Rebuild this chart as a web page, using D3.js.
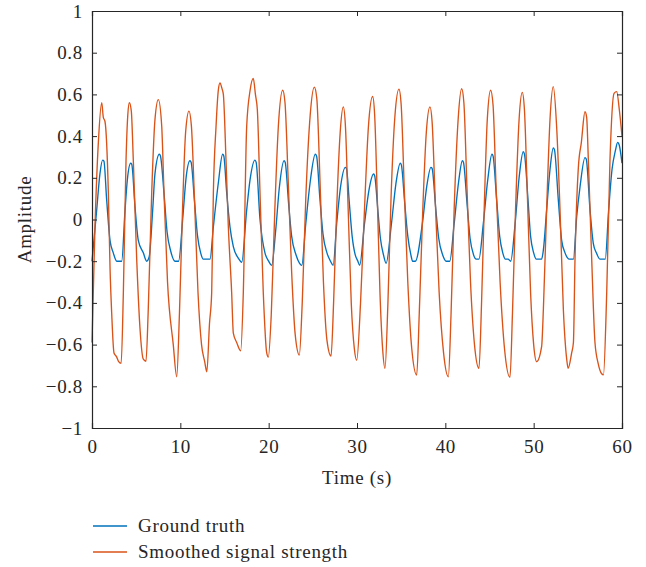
<!DOCTYPE html>
<html lang="en">
<head>
<meta charset="utf-8">
<title>Amplitude vs time</title>
<script src="https://cdn.jsdelivr.net/npm/d3@7"></script>
<style>
  body{margin:0;background:#fff;}
  svg text{font-family:"Liberation Serif","DejaVu Serif",serif;fill:#262626;letter-spacing:0.7px;}
</style>
</head>
<body>
<div id="chart"></div>
<script>
// Ground truth as [time (s), amplitude]
var groundTruth = [
  [0,-0.2],[0.53,0.045],[0.9,0.22],[1.2,0.285],[1.35,0.28],[1.66,0.094],[2.04,-0.1],[2.41,-0.16],[2.8,-0.2],[3.36,-0.2],
  [3.74,0.045],[4.0,0.19],[4.38,0.27],[4.5,0.265],[4.87,0.06],[5.24,-0.1],[5.81,-0.16],[6.19,-0.2],[6.47,-0.18],
  [6.87,0.045],[7.13,0.22],[7.62,0.313],[7.75,0.305],[8.15,0.127],[8.5,-0.06],[8.9,-0.15],[9.4,-0.2],[9.8,-0.2],
  [10.3,0.02],[10.65,0.2],[11.09,0.282],[11.22,0.275],[11.6,0.09],[11.95,-0.08],[12.3,-0.16],[12.6,-0.19],[13.36,-0.19],
  [13.74,-0.035],[14.3,0.175],[14.79,0.313],[14.92,0.305],[15.25,0.127],[15.62,-0.035],[16.0,-0.13],[16.57,-0.186],[16.95,-0.205],
  [17.51,0.045],[17.89,0.19],[18.45,0.285],[18.58,0.275],[19.02,0.0],[19.58,-0.16],[20.0,-0.2],[20.34,-0.22],
  [20.8,-0.05],[21.2,0.15],[21.74,0.282],[21.87,0.275],[22.25,0.08],[22.6,-0.08],[23.1,-0.17],[23.5,-0.21],[23.75,-0.22],
  [24.2,-0.02],[24.7,0.18],[25.28,0.313],[25.42,0.305],[25.8,0.1],[26.15,-0.07],[26.6,-0.16],[27.0,-0.2],[27.3,-0.22],
  [27.7,-0.02],[28.15,0.16],[28.68,0.25],[28.8,0.245],[29.15,0.07],[29.45,-0.08],[29.8,-0.17],[30.1,-0.2],[30.3,-0.22],
  [30.85,-0.02],[31.35,0.14],[31.88,0.218],[32.0,0.21],[32.35,0.05],[32.65,-0.09],[33.0,-0.17],[33.3,-0.21],
  [33.9,-0.02],[34.4,0.17],[34.9,0.27],[35.02,0.262],[35.4,0.08],[35.75,-0.08],[36.1,-0.17],[36.3,-0.2],[36.6,-0.2],
  [37.4,-0.02],[37.9,0.16],[38.37,0.25],[38.5,0.245],[38.9,0.06],[39.25,-0.09],[39.7,-0.17],[40.1,-0.2],[40.5,-0.2],
  [41.0,-0.02],[41.5,0.18],[41.93,0.282],[42.05,0.275],[42.45,0.08],[42.8,-0.09],[43.2,-0.17],[43.5,-0.19],[43.8,-0.19],
  [44.3,-0.02],[44.8,0.19],[45.28,0.313],[45.4,0.305],[45.8,0.1],[46.15,-0.08],[46.5,-0.16],[46.8,-0.19],[47.1,-0.19],[47.4,-0.2],
  [47.9,-0.02],[48.35,0.2],[48.82,0.325],[48.95,0.315],[49.35,0.1],[49.65,-0.08],[50.0,-0.16],[50.3,-0.19],[50.9,-0.19],
  [51.1,-0.146],[51.47,0.046],[51.85,0.24],[52.22,0.343],[52.35,0.335],[52.79,0.094],[53.17,-0.1],[53.55,-0.16],[54.04,-0.19],[54.5,-0.19],
  [54.87,0.013],[55.25,0.157],[55.81,0.297],[55.95,0.29],[56.38,0.046],[56.75,-0.114],[57.1,-0.16],[57.5,-0.19],[58.1,-0.19],
  [58.49,0.046],[58.87,0.24],[59.25,0.33],[59.51,0.37],[59.7,0.355],[60,0.27]
]

// Smoothed signal strength as [time (s), amplitude]
var smoothed = [
  [0,-0.59],[0.34,-0.03],[0.72,0.37],[1.10,0.56],[1.28,0.49],[1.47,0.47],[1.85,0.13],[2.04,-0.23],[2.23,-0.45],[2.49,-0.64],[2.8,-0.66],[3.0,-0.68],[3.3,-0.69],
  [3.55,-0.35],[3.85,0.28],[4.05,0.50],[4.23,0.56],[4.45,0.52],[4.68,0.28],[5.06,-0.19],[5.43,-0.52],[5.81,-0.67],[6.11,-0.68],
  [6.37,-0.43],[6.76,0.13],[7.13,0.48],[7.51,0.575],[7.89,0.45],[8.15,0.13],[8.55,-0.3],[9.2,-0.6],[9.59,-0.754],
  [9.9,-0.45],[10.25,0.05],[10.6,0.42],[10.98,0.52],[11.25,0.45],[11.6,0.1],[12.0,-0.35],[12.4,-0.6],[12.75,-0.68],[13.0,-0.73],
  [13.3,-0.5],[13.55,-0.35],[13.74,0.13],[14.04,0.445],[14.3,0.62],[14.49,0.655],[14.7,0.63],[14.87,0.6],[15.17,0.285],[15.43,-0.03],[15.81,-0.35],[16.0,-0.545],[16.38,-0.59],[16.83,-0.63],
  [17.13,-0.35],[17.51,0.445],[17.9,0.62],[18.26,0.677],[18.5,0.6],[18.72,0.525],[19.02,0.127],[19.39,-0.35],[19.78,-0.64],[19.96,-0.66],
  [20.3,-0.45],[20.7,0.05],[21.1,0.45],[21.59,0.62],[21.85,0.56],[22.2,0.2],[22.6,-0.25],[23.0,-0.55],[23.47,-0.65],
  [23.8,-0.4],[24.2,0.1],[24.7,0.5],[25.17,0.635],[25.45,0.58],[25.8,0.2],[26.2,-0.3],[26.6,-0.58],[27.06,-0.655],
  [27.35,-0.4],[27.7,0.05],[28.1,0.42],[28.45,0.54],[28.7,0.44],[29.0,0.05],[29.35,-0.4],[29.7,-0.62],[29.97,-0.675],
  [30.4,-0.4],[30.8,0.0],[31.3,0.45],[31.77,0.59],[32.0,0.5],[32.3,0.1],[32.6,-0.35],[32.9,-0.62],[33.17,-0.714],
  [33.5,-0.4],[33.85,0.1],[34.3,0.5],[34.75,0.625],[35.0,0.55],[35.35,0.15],[35.75,-0.3],[36.2,-0.62],[36.76,-0.746],
  [37.05,-0.45],[37.45,0.05],[37.85,0.42],[38.26,0.54],[38.5,0.47],[38.85,0.1],[39.3,-0.35],[39.8,-0.64],[40.34,-0.754],
  [40.65,-0.45],[41.0,0.05],[41.45,0.48],[41.85,0.627],[42.1,0.56],[42.45,0.15],[42.85,-0.3],[43.3,-0.6],[43.81,-0.714],
  [44.1,-0.4],[44.4,0.05],[44.75,0.48],[45.13,0.62],[45.4,0.55],[45.75,0.15],[46.2,-0.3],[46.7,-0.62],[47.32,-0.757],
  [47.6,-0.45],[47.95,0.05],[48.35,0.48],[48.71,0.61],[48.95,0.53],[49.3,0.1],[49.65,-0.35],[50.0,-0.6],[50.34,-0.682],
  [50.9,-0.61],[51.1,-0.43],[51.47,0.05],[51.85,0.48],[52.22,0.637],[52.6,0.445],[52.98,0.05],[53.36,-0.43],[53.74,-0.67],[53.9,-0.714],
  [54.3,-0.64],[54.5,-0.59],[54.68,-0.19],[55.06,0.25],[55.4,0.37],[55.81,0.517],[56.0,0.49],[56.19,0.285],[56.57,-0.19],[56.94,-0.59],[57.3,-0.69],[57.7,-0.74],[57.9,-0.745],
  [58.27,-0.35],[58.64,0.285],[59.1,0.605],[59.4,0.613],[59.7,0.525],[60,0.40]
]

var xTicks = [0,10,20,30,40,50,60]
var yTicks = [-1,-0.8,-0.6,-0.4,-0.2,0,0.2,0.4,0.6,0.8,1]
var seriesNames = ["Ground truth","Smoothed signal strength"]
var seriesColors = ["#0072bd","#d95319"]

var width = 646, height = 567
var plotLeft = 92, plotRight = 622, plotTop = 11, plotBottom = 428
var fontSize = 19

var svg = d3.select("#chart").append("svg").attr("width",width).attr("height",height)

var x = d3.scaleLinear().domain([0,60]).range([plotLeft,plotRight])
var y = d3.scaleLinear().domain([-1,1]).range([plotBottom,plotTop])

function fmt(d){
  return d3.format("")(d).replace("-","\u2212")
}

// lines first, axes drawn on top
var line = d3.line()
  .x(function(d){return x(d[0])})
  .y(function(d){return y(d[1])})
  .curve(d3.curveMonotoneX)

var allSeries = [groundTruth, smoothed]
svg.selectAll(".series")
  .data(allSeries)
  .enter()
  .append("path")
  .attr("class","series")
  .attr("d",line)
  .attr("fill","none")
  .attr("stroke",function(d,i){return seriesColors[i]})
  .attr("stroke-width",1.35)
  .attr("stroke-linejoin","round")

var axisColor = "#262626"

svg.append("g").attr("transform","translate(0,"+plotBottom+")")
  .call(d3.axisBottom(x).tickValues(xTicks).tickSize(-5).tickPadding(12).tickFormat(fmt))
svg.append("g").attr("transform","translate(0,"+plotTop+")")
  .call(d3.axisTop(x).tickValues(xTicks).tickSize(-5).tickFormat(""))
svg.append("g").attr("transform","translate("+plotLeft+",0)")
  .call(d3.axisLeft(y).tickValues(yTicks).tickSize(-5).tickPadding(9).tickFormat(fmt))
svg.append("g").attr("transform","translate("+plotRight+",0)")
  .call(d3.axisRight(y).tickValues(yTicks).tickSize(-5).tickFormat(""))

svg.selectAll(".domain").attr("stroke",axisColor).attr("stroke-width",1.2)
svg.selectAll(".tick line").attr("stroke",axisColor).attr("stroke-width",1)
svg.selectAll(".tick text")
  .attr("font-family","Liberation Serif, DejaVu Serif, serif")
  .attr("font-size",fontSize)
  .attr("fill",axisColor)

svg.append("text")
  .attr("x",(plotLeft+plotRight)/2)
  .attr("y",484)
  .attr("text-anchor","middle")
  .attr("font-size",fontSize)
  .text("Time (s)")

svg.append("text")
  .attr("transform","translate(31,"+((plotTop+plotBottom)/2)+") rotate(-90)")
  .attr("text-anchor","middle")
  .attr("font-size",fontSize)
  .text("Amplitude")

// legend
var legend = svg.selectAll(".legend")
  .data(seriesNames)
  .enter()
  .append("g")
  .attr("class","legend")
  .attr("transform",function(d,i){return "translate(93,"+(526+i*26)+")"})

legend.append("line")
  .attr("x1",0).attr("x2",34)
  .attr("stroke",function(d,i){return seriesColors[i]})
  .attr("stroke-width",1.35)

legend.append("text")
  .attr("x",45)
  .attr("y",6)
  .attr("font-size",fontSize)
  .text(function(d){return d})
</script>
</body>
</html>
